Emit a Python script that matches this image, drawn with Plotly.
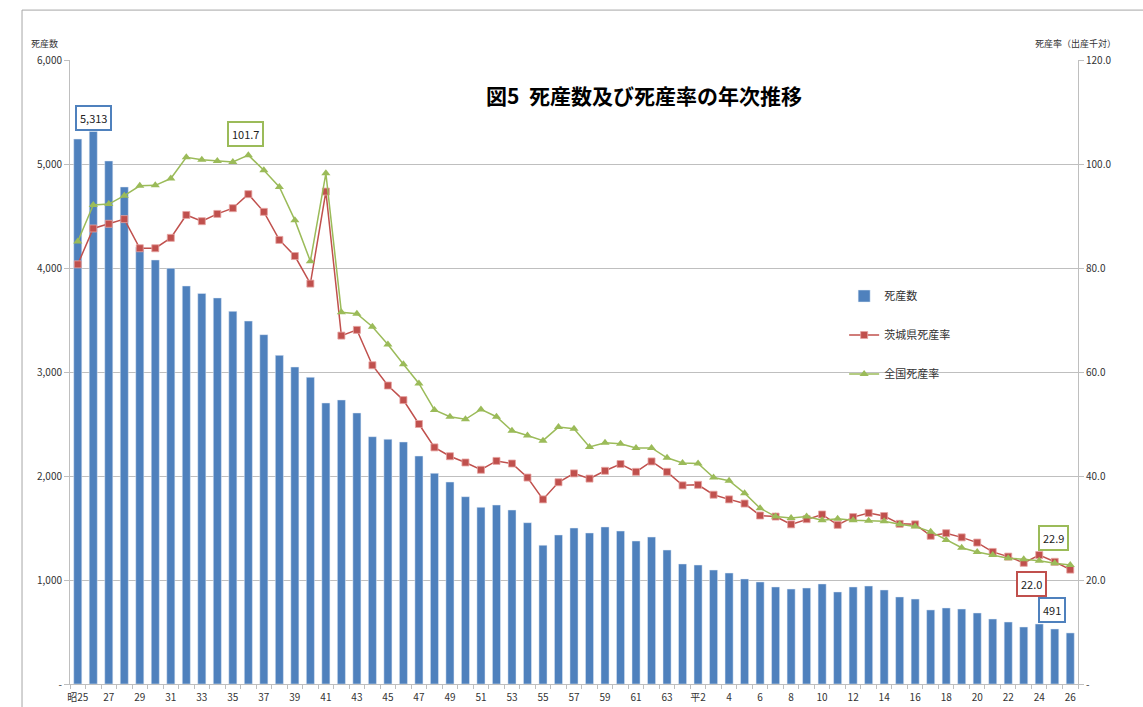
import plotly.graph_objects as go

# ---------------- data ----------------
years = (["昭25"] + [str(y) for y in range(26, 64)] + ["平元", "平2"] + [str(y) for y in range(3, 27)])

stillbirths = [5240, 5313, 5029, 4779, 4200, 4077, 3997, 3827, 3756, 3712,
               3583, 3490, 3359, 3160, 3048, 2949, 2702, 2731, 2606, 2378,
               2353, 2327, 2192, 2026, 1942, 1801, 1699, 1721, 1673, 1551,
               1334, 1433, 1500, 1452, 1510, 1471, 1375, 1413, 1288, 1154,
               1144, 1096, 1067, 1010, 981, 933, 913, 923, 962, 885,
               933, 942, 904, 837, 817, 712, 731, 721, 683, 625,
               596, 548, 577, 529, 491]

ibaraki_rate = [80.7, 87.6, 88.5, 89.4, 83.8, 83.8, 85.8, 90.2, 89.0, 90.4,
                91.5, 94.2, 90.8, 85.4, 82.3, 77.0, 94.7, 67.0, 68.1, 61.3,
                57.4, 54.6, 50.0, 45.5, 43.8, 42.6, 41.2, 42.9, 42.4, 39.7,
                35.5, 38.8, 40.5, 39.5, 41.0, 42.3, 40.8, 42.8, 40.8, 38.2,
                38.3, 36.4, 35.5, 34.7, 32.4, 32.2, 30.7, 31.7, 32.6, 30.6,
                32.1, 32.9, 32.3, 30.8, 30.7, 28.5, 29.0, 28.2, 27.2, 25.4,
                24.5, 23.3, 24.8, 23.5, 22.0]

national_rate = [85.1, 92.1, 92.3, 93.9, 95.8, 95.9, 97.2, 101.3, 100.8, 100.6,
                 100.4, 101.7, 98.8, 95.6, 89.2, 81.3, 98.2, 71.5, 71.2, 68.7,
                 65.3, 61.5, 57.8, 52.7, 51.4, 50.9, 52.8, 51.4, 48.7, 47.8,
                 46.8, 49.4, 49.1, 45.6, 46.4, 46.2, 45.4, 45.4, 43.5, 42.5,
                 42.4, 39.7, 39.1, 36.7, 33.8, 32.2, 31.9, 32.2, 31.5, 31.8,
                 31.5, 31.4, 31.3, 30.7, 30.3, 29.3, 27.7, 26.2, 25.4, 24.8,
                 24.2, 24.0, 23.7, 23.2, 22.9]

left_ticks = [0, 1000, 2000, 3000, 4000, 5000, 6000]
left_ticktext = ["-", "1,000", "2,000", "3,000", "4,000", "5,000", "6,000"]
right_ticks = [0, 20, 40, 60, 80, 100, 120]
right_ticktext = ["-", "20.0", "40.0", "60.0", "80.0", "100.0", "120.0"]

BLUE = "#4F81BD"
RED = "#C0504D"
GREEN = "#9BBB59"
GRID = "#BFBFBF"
FONT = "Noto Sans CJK JP"

xs = list(range(len(years)))
label_idx = [i for i in xs if i % 2 == 0]

fig = go.Figure()
fig.add_trace(go.Bar(x=xs, y=stillbirths, name="死産数", marker=dict(color=BLUE),
                     legendgroup="a", yaxis="y"))
fig.add_trace(go.Scatter(x=xs, y=ibaraki_rate, name="茨城県死産率", mode="lines+markers",
                         line=dict(color=RED, width=1.5),
                         marker=dict(symbol="square", size=7, color=RED,
                                     line=dict(color="#E6A3A1", width=0.8)),
                         legendgroup="b", yaxis="y2"))
fig.add_trace(go.Scatter(x=xs, y=national_rate, name="全国死産率", mode="lines+markers",
                         line=dict(color=GREEN, width=1.5),
                         marker=dict(symbol="triangle-up", size=8, color=GREEN),
                         legendgroup="c", yaxis="y2"))

ann_font = dict(family=FONT, size=11, color="#222222")
annotations = [
    dict(x=0.569, y=0.944, xref="paper", yref="paper", text="<b>図5  死産数及び死産率の年次推移</b>",
         showarrow=False, xanchor="center", yanchor="middle",
         font=dict(family=FONT, size=21, color="#000000")),
    dict(x=-0.025, y=1.026, xref="paper", yref="paper", text="死産数", showarrow=False,
         xanchor="center", yanchor="middle", font=dict(family=FONT, size=9, color="#333333")),
    dict(x=1.0397, y=1.026, xref="paper", yref="paper", text="死産率（出産千対）", showarrow=False,
         xanchor="right", yanchor="middle", font=dict(family=FONT, size=9, color="#333333")),
    dict(x=xs[1], y=stillbirths[1], xref="x", yref="y", text=f"{stillbirths[1]:,}", showarrow=False,
         yshift=13, bgcolor="white", bordercolor=BLUE, borderwidth=2, borderpad=3, font=ann_font),
    dict(x=xs[11], y=national_rate[11], xref="x", yref="y2", text=f"{national_rate[11]:.1f}", showarrow=False,
         yshift=21, xshift=-3, bgcolor="white", bordercolor=GREEN, borderwidth=2, borderpad=3, font=ann_font),
    dict(x=xs[-1], y=national_rate[-1], xref="x", yref="y2", text=f"{national_rate[-1]:.1f}", showarrow=False,
         yshift=27, xshift=-17, bgcolor="white", bordercolor=GREEN, borderwidth=2, borderpad=3, font=ann_font),
    dict(x=xs[-1], y=ibaraki_rate[-1], xref="x", yref="y2", text=f"{ibaraki_rate[-1]:.1f}", showarrow=False,
         yshift=-14, xshift=-39, bgcolor="white", bordercolor=RED, borderwidth=2, borderpad=3, font=ann_font),
    dict(x=xs[-1], y=stillbirths[-1], xref="x", yref="y", text=f"{stillbirths[-1]:,}", showarrow=False,
         yshift=23, xshift=-18, bgcolor="white", bordercolor=BLUE, borderwidth=2, borderpad=3, font=ann_font),
]

fig.update_layout(
    width=1143, height=707,
    margin=dict(l=70, r=65, t=60, b=23),
    paper_bgcolor="white", plot_bgcolor="white",
    font=dict(family=FONT, size=10, color="#333333"),
    bargap=0.48,
    showlegend=True,
    legend=dict(x=0.768, y=0.645, xanchor="left", yanchor="top", tracegroupgap=20,
                font=dict(family=FONT, size=11, color="#333333"), bgcolor="rgba(0,0,0,0)"),
    xaxis=dict(range=[-0.5, len(years) - 0.5], tickmode="array", tickvals=label_idx,
               ticktext=[years[i] for i in label_idx], ticks="", showgrid=False,
               showline=True, linecolor=GRID, linewidth=1, zeroline=False,
               automargin=False, ticklabelstandoff=4,
               tickfont=dict(size=10, color="#333333"),
               minor=dict(ticks="outside", tick0=-0.5, dtick=1, ticklen=4, tickcolor=GRID, showgrid=False)),
    yaxis=dict(range=[0, 6000], tickmode="array", tickvals=left_ticks, ticktext=left_ticktext,
               showgrid=True, gridcolor=GRID, gridwidth=1, showline=True, linecolor=GRID,
               ticks="outside", ticklen=5, tickcolor=GRID, zeroline=False, automargin=False,
               tickfont=dict(size=10, color="#333333")),
    yaxis2=dict(range=[0, 120], overlaying="y", side="right", tickmode="array",
                tickvals=right_ticks, ticktext=right_ticktext, showgrid=False,
                showline=True, linecolor=GRID, ticks="outside", ticklen=5, tickcolor=GRID,
                zeroline=False, automargin=False, tickfont=dict(size=10, color="#333333")),
    annotations=annotations,
    shapes=[dict(type="rect", xref="paper", yref="paper", x0=-0.0476, x1=1.2, y0=-0.2, y1=1.08,
                 line=dict(color="#A6A6A6", width=1), fillcolor="rgba(0,0,0,0)", layer="below")],
    hovermode=False,
)

fig.write_html("out.html", config={"displayModeBar": False},
               post_script="document.body.style.margin='0';document.body.style.overflow='hidden';")
